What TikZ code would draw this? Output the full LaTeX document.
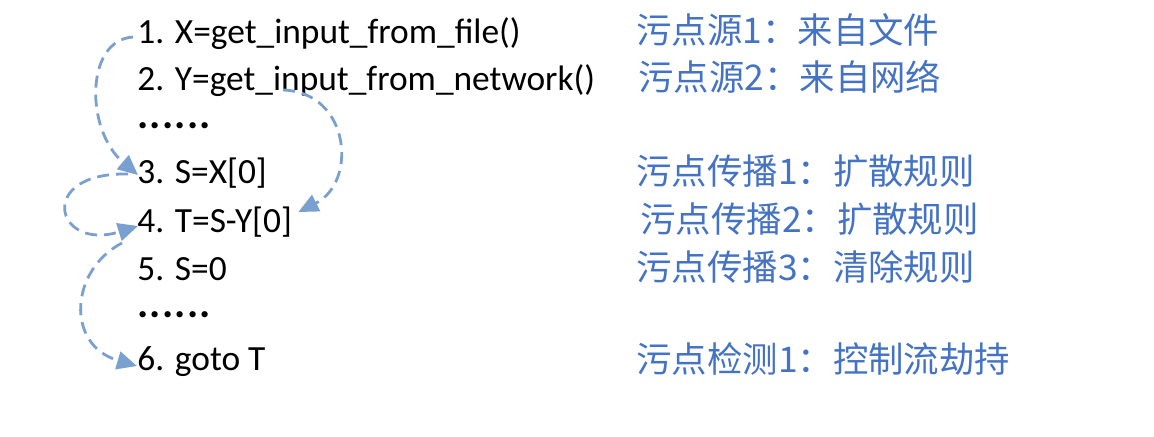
\documentclass[tikz,border=0pt]{standalone}
\usepackage{fontspec}
\setmainfont{Carlito}
\newfontfamily\cjk{Noto Sans CJK SC}
\usetikzlibrary{arrows.meta, calc}
\definecolor{taintblue}{RGB}{68,114,196}
\definecolor{flowblue}{RGB}{122,160,208}
\tikzset{
  code/.style={anchor=base west, inner sep=0pt, font=\fontsize{17.7}{21}\selectfont},
  taint/.style={anchor=base west, inner sep=0pt, text=taintblue, font=\fontsize{17.7}{21}\selectfont\cjk},
  flow/.style={-{Triangle[length=10pt, width=9pt]}, flowblue, line width=1.4pt, dash pattern=on 6pt off 3.5pt}
}
\newcommand{\dotrow}{{\fontsize{21}{24}\selectfont\bfseries.\kern0.6pt.\kern0.6pt.\kern0.6pt.\kern0.6pt.\kern0.6pt.}}

\begin{document}
\begin{tikzpicture}[x=0.5pt, y=-0.5pt]
    \useasboundingbox (0,0) rectangle (1154,436);
    % program lines
    \node[code] (l1) at (137,43) {1. X=get\_input\_from\_file()};
    \node[code] (l2) at (137,90) {2. Y=get\_input\_from\_network()};
    \node[code] (dots1) at (137,128) {\dotrow};
    \node[code] (l3) at (137,183) {3. S=X[0]};
    \node[code] (l4) at (137,232) {4. T=S-Y[0]};
    \node[code] (l5) at (137,280) {5. S=0};
    \node[code] (dots2) at (137,317) {\dotrow};
    \node[code] (l6) at (137,370) {6. goto T};

    % taint notes
    \node[taint] (src1) at (636,43) {污点源1：来自文件};
    \node[taint] (src2) at (638,90) {污点源2：来自网络};
    \node[taint] (prop1) at (636,184) {污点传播1：扩散规则};
    \node[taint] (prop2) at (640,232) {污点传播2：扩散规则};
    \node[taint] (prop3) at (636,280) {污点传播3：清除规则};
    \node[taint] (chk1) at (636,372) {污点检测1：控制流劫持};

    % data flow
    \draw[flow] ($(l1.base west)+(-4,-6)$) .. controls (85,40) and (85,130) .. ($(l3.base west)+(1,-8)$);
    \draw[flow] ($(l2.base west)+(146,0)$) .. controls (350,92) and (358,182) .. ($(l4.base east)+(6,-20)$);
    \draw[flow] ($(l3.base west)+(-9,-9)$) .. controls (35,172) and (55,252) .. ($(l4.base west)+(1,-6)$);
    \draw[flow] ($(l4.base west)+(-15,11)$) .. controls (70,270) and (65,345) .. ($(l6.base west)+(0,-4)$);
\end{tikzpicture}
\end{document}
